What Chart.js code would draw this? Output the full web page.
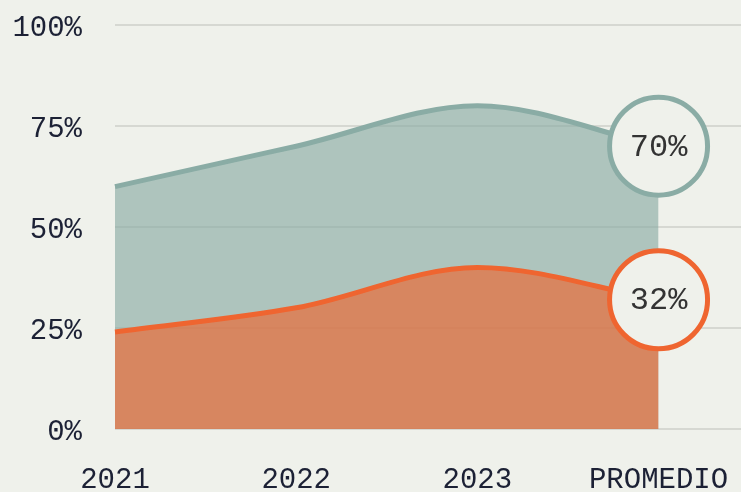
<!DOCTYPE html>
<html>
<head>
<meta charset="utf-8">
<script src="https://cdn.jsdelivr.net/npm/chart.js@4"></script>
<style>
  html, body { margin: 0; padding: 0; background: #eff1eb; }
  #wrap { width: 741px; height: 492px; }
</style>
</head>
<body>
<div id="wrap"><canvas id="grafico"></canvas></div>
<script>
// ========================
// Datos
// ========================
const categorias = ["2021", "2022", "2023", "PROMEDIO"];
const serieVerde = [60, 70, 80, 70];
const serieNaranja = [24, 30, 40, 32];
const ticksY = [0, 25, 50, 75, 100];

const FUENTE = "'Liberation Mono', 'DejaVu Sans Mono', monospace";
const FONDO = "#eff1eb";

function puntos(valores) {
  return valores.map((v, i) => ({ x: i, y: v }));
}

// radio grande solo en el último punto (círculo con el valor)
const radioUltimo = ctx => (ctx.dataIndex === categorias.length - 1 ? 49 : 0);

// ========================
// Texto dentro de los círculos
// ========================
const etiquetaCirculo = {
  id: "etiquetaCirculo",
  afterDatasetsDraw(chart) {
    const ctx = chart.ctx;
    ctx.save();
    ctx.font = "32px " + FUENTE;
    ctx.fillStyle = "#333333";
    ctx.textAlign = "center";
    ctx.textBaseline = "middle";
    chart.data.datasets.forEach((ds, i) => {
      const meta = chart.getDatasetMeta(i);
      const ultimo = meta.data[meta.data.length - 1];
      const valor = ds.data[ds.data.length - 1].y;
      ctx.fillText(valor + "%", ultimo.x, ultimo.y + 1);
    });
    ctx.restore();
  }
};

new Chart(document.getElementById("grafico"), {
  type: "line",
  data: {
    datasets: [
      {
        label: "Verde",
        data: puntos(serieVerde),
        borderColor: "#8aaca5",
        backgroundColor: "rgba(138, 172, 165, 0.65)",
        borderWidth: 5,
        fill: "origin",
        cubicInterpolationMode: "monotone",
        pointRadius: radioUltimo,
        pointHoverRadius: radioUltimo,
        pointBackgroundColor: FONDO,
        pointBorderColor: "#8aaca5",
        pointBorderWidth: 5,
        order: 2,
        clip: false
      },
      {
        label: "Naranja",
        data: puntos(serieNaranja),
        borderColor: "#ef6530",
        backgroundColor: "rgba(239, 101, 48, 0.66)",
        borderWidth: 5,
        fill: "origin",
        cubicInterpolationMode: "monotone",
        pointRadius: radioUltimo,
        pointHoverRadius: radioUltimo,
        pointBackgroundColor: FONDO,
        pointBorderColor: "#ef6530",
        pointBorderWidth: 5,
        order: 1,
        clip: false
      }
    ]
  },
  options: {
    responsive: true,
    maintainAspectRatio: false,
    animation: false,
    layout: { padding: 0, autoPadding: false },
    plugins: {
      legend: { display: false },
      tooltip: { enabled: false }
    },
    scales: {
      x: {
        type: "linear",
        min: 0,
        max: 3.455,
        grid: { display: false },
        border: { display: false },
        afterBuildTicks: scale => {
          scale.ticks = categorias.map((c, i) => ({ value: i }));
        },
        afterFit: scale => {
          scale.height = 63;
          scale.paddingLeft = 0;
          scale.paddingRight = 0;
        },
        ticks: {
          autoSkip: false,
          maxRotation: 0,
          padding: 26,
          color: "#1c2135",
          font: { family: FUENTE, size: 29 },
          callback: v => categorias[v]
        }
      },
      y: {
        min: 0,
        max: 100,
        grid: { color: "#d6d8d2", lineWidth: 2, drawTicks: false },
        border: { display: false },
        afterBuildTicks: scale => {
          scale.ticks = ticksY.map(v => ({ value: v }));
        },
        afterFit: scale => {
          scale.width = 115;
          scale.paddingTop = 25;
          scale.paddingBottom = 0;
        },
        ticks: {
          padding: 33,
          labelOffset: 3,
          color: "#1c2135",
          font: { family: FUENTE, size: 29 },
          callback: v => v + "%"
        }
      }
    }
  },
  plugins: [etiquetaCirculo]
});
</script>
</body>
</html>
